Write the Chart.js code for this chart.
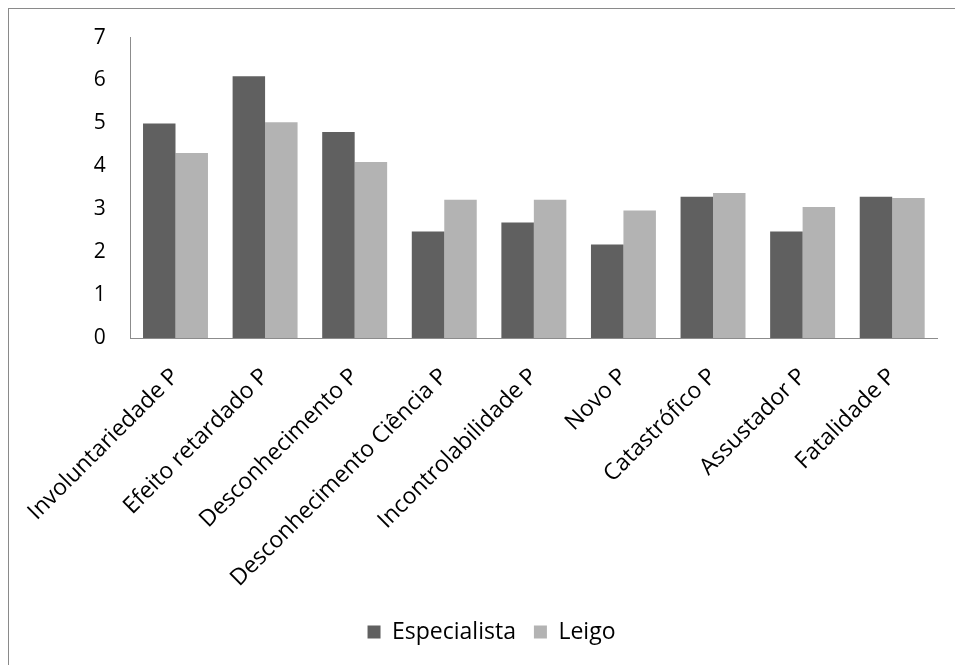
<!DOCTYPE html>
<html>
<head>
<meta charset="utf-8">
<script src="https://cdn.jsdelivr.net/npm/chart.js@4/dist/chart.umd.min.js"></script>
<style>
  html, body { margin: 0; padding: 0; background: #ffffff; }
  #wrap { position: relative; width: 955px; height: 665px; overflow: hidden; }
  #frame { position: absolute; left: 8px; top: 8px; width: 1000px; height: 700px;
           border-left: 1px solid #8a8a8a; border-top: 1px solid #8a8a8a; }
  canvas { position: absolute; left: 0; top: 0; }
</style>
</head>
<body>
<div id="wrap">
  <div id="frame"></div>
  <canvas id="c" width="955" height="665"></canvas>
</div>
<script>
const categories = [
  'Involuntariedade P',
  'Efeito retardado P',
  'Desconhecimento P',
  'Desconhecimento Ciência P',
  'Incontrolabilidade P',
  'Novo P',
  'Catastrófico P',
  'Assustador P',
  'Fatalidade P'
];
const especialista = [5.0, 6.1, 4.8, 2.48, 2.69, 2.18, 3.29, 2.48, 3.29];
const leigo = [4.31, 5.03, 4.1, 3.22, 3.22, 2.97, 3.38, 3.05, 3.26];
const yTicks = [0, 1, 2, 3, 4, 5, 6, 7];

const FONT = "'Open Sans', 'Noto Sans', sans-serif";

// The legend is centred on the whole frame rather than on the plot width.
const legendShift = {
  id: 'legendShift',
  afterLayout(chart) {
    const lg = chart.legend;
    if (lg) { lg.left += 23; lg.right += 23; }
  }
};

new Chart(document.getElementById('c'), {
  type: 'bar',
  data: {
    labels: categories,
    datasets: [
      { label: 'Especialista', data: especialista, backgroundColor: '#606060', borderWidth: 0 },
      { label: 'Leigo', data: leigo, backgroundColor: '#b3b3b3', borderWidth: 0 }
    ]
  },
  plugins: [legendShift],
  options: {
    responsive: false,
    animation: false,
    layout: { padding: { top: 30, right: 18, left: 0, bottom: 11.5 } },
    datasets: { bar: { categoryPercentage: 0.725, barPercentage: 1.0 } },
    plugins: {
      tooltip: { enabled: false },
      legend: {
        position: 'bottom',
        labels: {
          color: '#000000',
          font: { family: FONT, size: 23 },
          boxWidth: 13, boxHeight: 13, padding: 18
        }
      }
    },
    scales: {
      x: {
        afterFit: (s) => { s.height = 264.5; },
        grid: { display: false, drawTicks: false },
        border: { color: '#8c8c8c', width: 1 },
        ticks: {
          color: '#000000', font: { family: FONT, size: 23 },
          minRotation: 45, maxRotation: 45, padding: 25, autoSkip: false
        }
      },
      y: {
        min: 0, max: 7,
        afterBuildTicks: (s) => { s.ticks = yTicks.map(v => ({ value: v })); },
        afterFit: (s) => { s.width = 130; },
        grid: { display: false, drawTicks: false },
        border: { color: '#8c8c8c', width: 1 },
        ticks: {
          color: '#000000', font: { family: FONT, size: 21 },
          padding: 25
        }
      }
    }
  }
});
</script>
</body>
</html>
